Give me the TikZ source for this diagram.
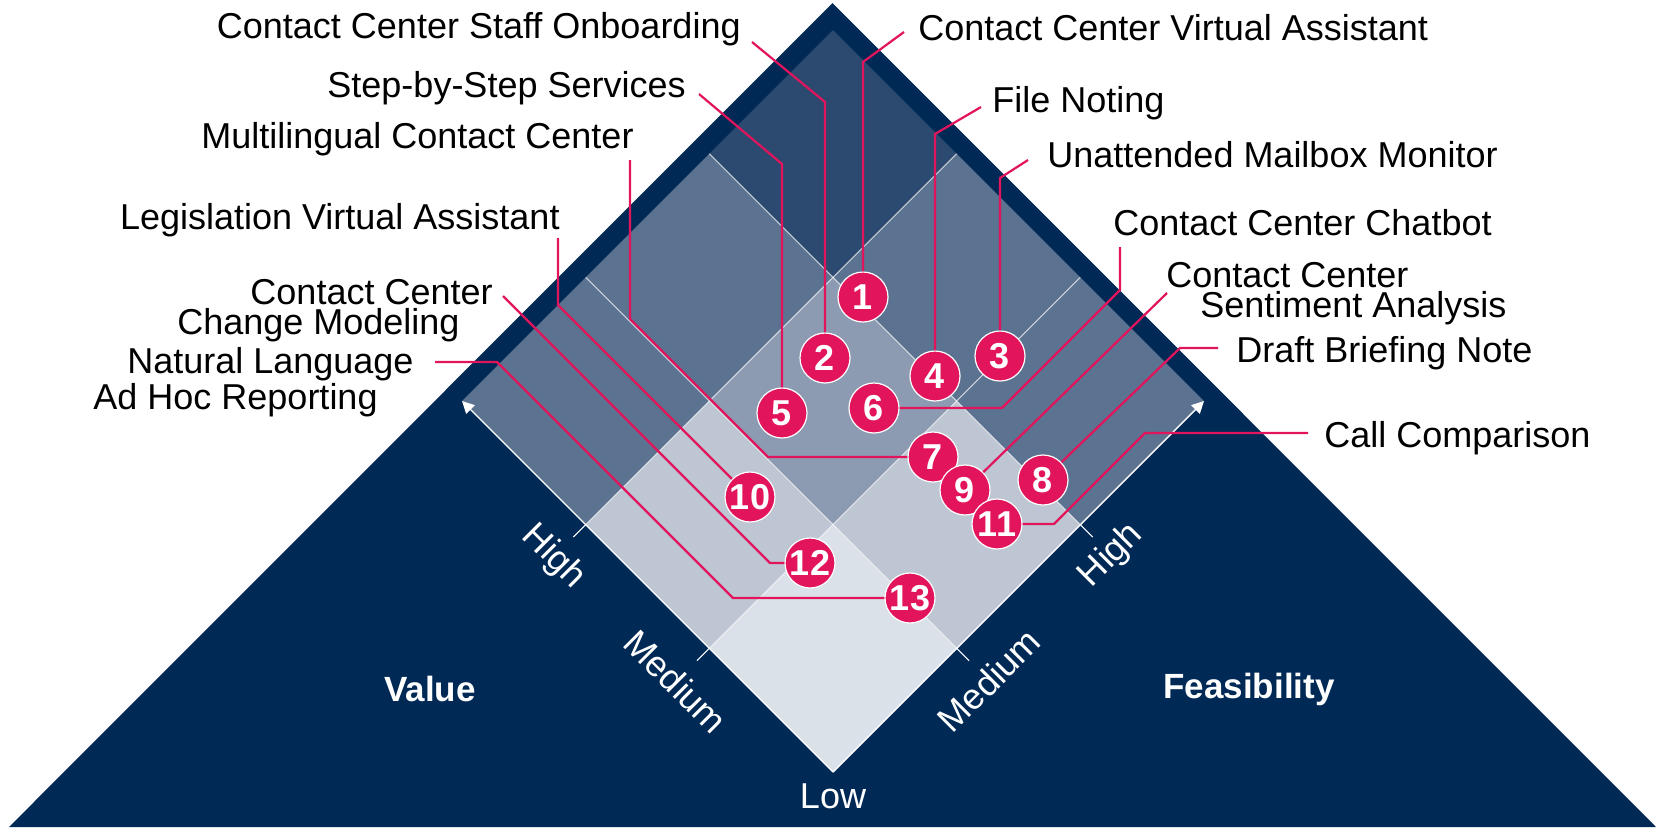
\documentclass[tikz,border=0pt]{standalone}
\usepackage{fontspec}
\setmainfont{Liberation Sans}
\usetikzlibrary{arrows.meta}
\definecolor{navy}{RGB}{1,41,86}
\definecolor{cellhh}{RGB}{44,74,112}
\definecolor{cellmid}{RGB}{91,114,144}
\definecolor{cellmm}{RGB}{140,155,177}
\definecolor{celllt}{RGB}{189,198,210}
\definecolor{cellll}{RGB}{219,225,232}
\definecolor{pinkred}{RGB}{226,20,92}
\begin{document}
\begin{tikzpicture}[x=0.5pt, y=-0.5pt, >={Triangle[length=6pt,width=6pt]},
    lead/.style={pinkred, line width=1.1pt},
    num/.style={circle, fill=pinkred, draw=white, line width=.6pt, text=white, minimum size=25pt, inner sep=0pt, font=\fontsize{18}{18}\selectfont\bfseries},
    lbl/.style={inner sep=0pt, font=\fontsize{18}{15}\selectfont},
    axlbl/.style={inner sep=0pt, text=white, font=\fontsize{18}{18}\selectfont},
    axname/.style={inner sep=0pt, text=white, font=\fontsize{17.5}{17.5}\selectfont\bfseries}]
    \useasboundingbox (0,0) rectangle (1656,832);
    \fill[white] (0,0) rectangle (1656,832);
    \fill[navy] (832.5,3) -- (1656,827) -- (9,827) -- cycle;
    \begin{scope}[shift={(833,772)}, x={(61.83pt,61.83pt)}, y={(-61.83pt,61.83pt)}]
        \foreach \j/\i/\c in {0/0/cellll, 1/0/celllt, 0/1/celllt, 1/1/cellmm, 2/0/cellmid, 0/2/cellmid, 2/1/cellmid, 1/2/cellmid, 2/2/cellhh}
        {
            \fill[\c] (\j,\i) -- (\j+1,\i) -- (\j+1,\i+1) -- (\j,\i+1) -- cycle;
        }
        \foreach \k in {1,2}
        {
            \draw[white, opacity=.7, line width=.5pt] (\k,0) -- (\k,3);
            \draw[white, opacity=.7, line width=.5pt] (0,\k) -- (3,\k);
            \draw[white, line width=.5pt] (0,\k) -- (-.1,\k);
            \draw[white, line width=.5pt] (\k,0) -- (\k,-.1);
        }
        \draw[->, white, line width=.7pt] (0,0) -- (0,3);
        \draw[->, white, line width=.7pt] (0,0) -- (3,0);
        \node[axlbl, rotate=-45] (vhigh) at (-.26,2) {High};
        \node[axlbl, rotate=-45] (vmed) at (-.27,1) {Medium};
        \node[axlbl, rotate=45] (fhigh) at (2,-.25) {High};
        \node[axlbl, rotate=45] (fmed) at (1,-.26) {Medium};
        \node[axlbl] (low) at (-.1,-.1) {Low};
    \end{scope}
    \node[axname] (value) at (430,689) {Value};
    \node[axname] (feas) at (1249,689) {Feasibility};
    \foreach \n/\x/\y in {1/863/297, 2/825/358, 3/1000/356, 4/935/376, 5/782/413, 6/874/408, 7/933/457, 8/1043/480, 9/965/490, 10/750/497, 11/997/524, 12/810/563, 13/910/598}
    {
        \node[num] (b\n) at (\x,\y) {\n};
    }
    \node[lbl, anchor=base east] (staff) at (741,38) {Contact Center Staff Onboarding};
    \node[lbl, anchor=base east] (stepsvc) at (686,97) {Step-by-Step Services};
    \node[lbl, anchor=base east] (multi) at (634,148) {Multilingual Contact Center};
    \node[lbl, anchor=base east] (legis) at (560,229) {Legislation Virtual Assistant};
    \node[lbl, anchor=north east, align=right] (change) at (493,279) {Contact Center\\Change Modeling\hspace*{16.5pt}};
    \node[lbl, anchor=north east, align=right] (natlang) at (414,347) {Natural Language\\Ad Hoc Reporting\hspace*{18pt}};
    \node[lbl, anchor=base west] (ccva) at (918,40) {Contact Center Virtual Assistant};
    \node[lbl, anchor=base west] (filenote) at (992,112) {File Noting};
    \node[lbl, anchor=base west] (mailbox) at (1047,167) {Unattended Mailbox Monitor};
    \node[lbl, anchor=base west] (chatbot) at (1113,235) {Contact Center Chatbot};
    \node[lbl, anchor=north west, align=left] (sentiment) at (1166,262) {Contact Center\\\hspace*{17pt}Sentiment Analysis};
    \node[lbl, anchor=base west] (draft) at (1236,362) {Draft Briefing Note};
    \node[lbl, anchor=base west] (callcmp) at (1324,447) {Call Comparison};
    \coordinate (ccva0) at (904,32);
    \coordinate (ccva1) at (863,62);
    \coordinate (staff0) at (752,42);
    \coordinate (staff1) at (825,102);
    \coordinate (mailbox0) at (1028,160);
    \coordinate (mailbox1) at (1000,178);
    \coordinate (filenote0) at (981,107);
    \coordinate (filenote1) at (935,134);
    \coordinate (stepsvc0) at (699,94);
    \coordinate (stepsvc1) at (782,164);
    \coordinate (chatbot0) at (1120,247);
    \coordinate (chatbot1) at (1120,290);
    \coordinate (chatbot2) at (1002,408);
    \coordinate (multi0) at (630,160);
    \coordinate (multi1) at (630,319);
    \coordinate (multi2) at (768,457);
    \coordinate (draft0) at (1218,348);
    \coordinate (draft1) at (1180,348);
    \coordinate (sentiment0) at (1167,293);
    \coordinate (legis0) at (558,238);
    \coordinate (legis1) at (558,305);
    \coordinate (callcmp0) at (1308,433);
    \coordinate (callcmp1) at (1145,433);
    \coordinate (callcmp2) at (1054,524);
    \coordinate (change0) at (503,296);
    \coordinate (change1) at (770,563);
    \coordinate (natlang0) at (435,362);
    \coordinate (natlang1) at (497,362);
    \coordinate (natlang2) at (733,598);
    \draw[lead] (ccva0) -- (ccva1) -- (b1);
    \draw[lead] (staff0) -- (staff1) -- (b2);
    \draw[lead] (mailbox0) -- (mailbox1) -- (b3);
    \draw[lead] (filenote0) -- (filenote1) -- (b4);
    \draw[lead] (stepsvc0) -- (stepsvc1) -- (b5);
    \draw[lead] (chatbot0) -- (chatbot1) -- (chatbot2) -- (b6);
    \draw[lead] (multi0) -- (multi1) -- (multi2) -- (b7);
    \draw[lead] (draft0) -- (draft1) -- (b8);
    \draw[lead] (sentiment0) -- (b9);
    \draw[lead] (legis0) -- (legis1) -- (b10);
    \draw[lead] (callcmp0) -- (callcmp1) -- (callcmp2) -- (b11);
    \draw[lead] (change0) -- (change1) -- (b12);
    \draw[lead] (natlang0) -- (natlang1) -- (natlang2) -- (b13);
\end{tikzpicture}
\end{document}
